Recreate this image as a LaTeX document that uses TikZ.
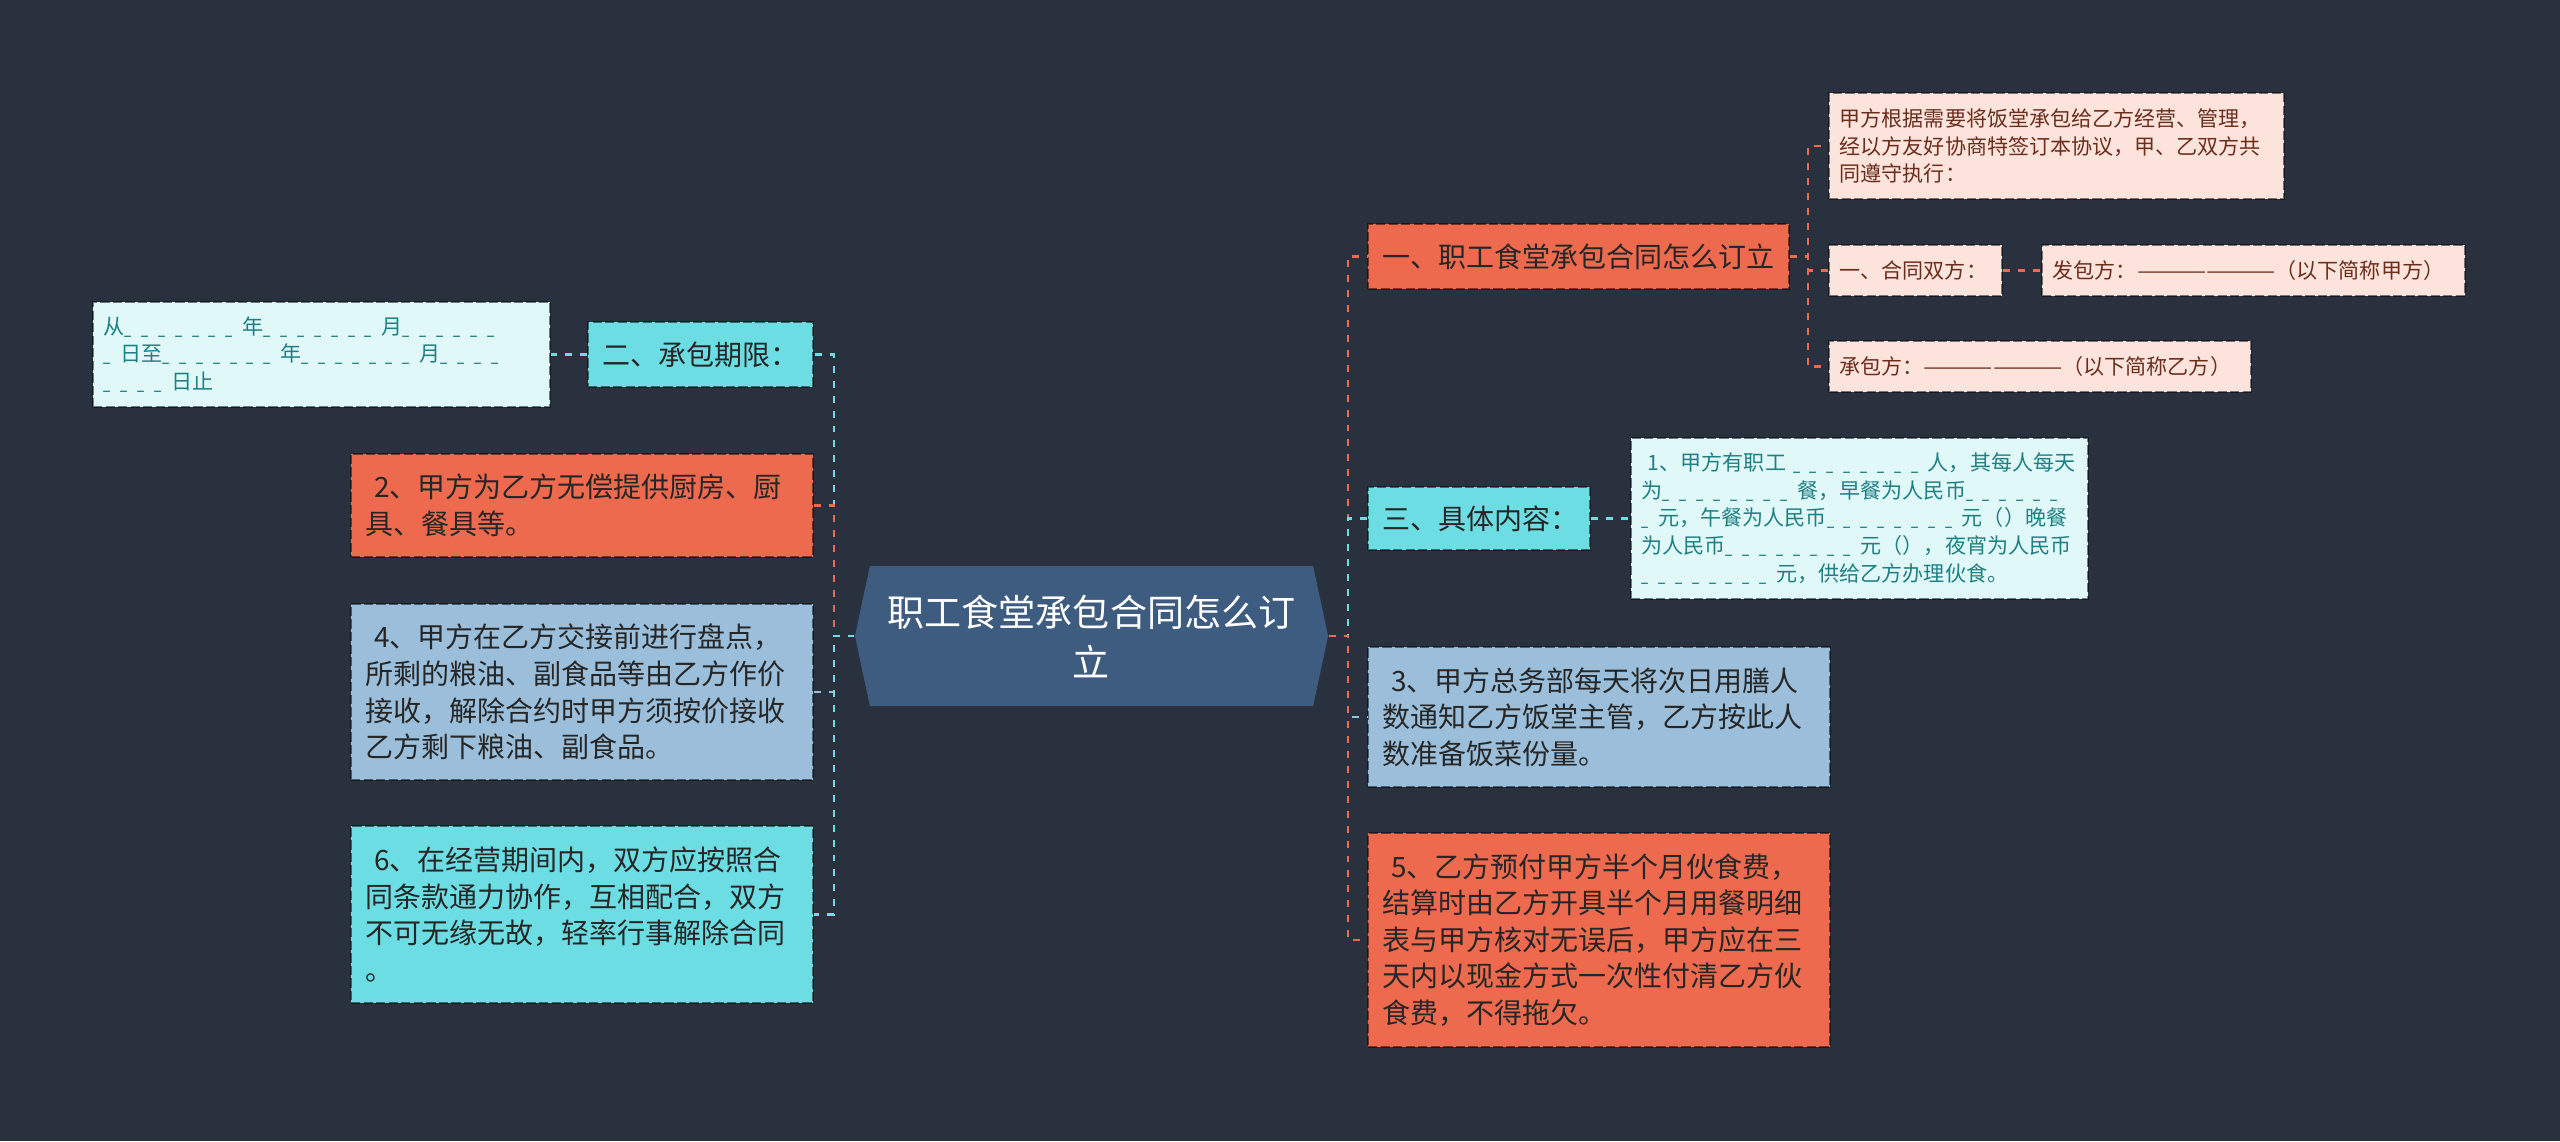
\documentclass[tikz,border=0pt]{standalone}
\usepackage{fontspec}
\usepackage{graphicx}
\setmainfont{Noto Sans CJK SC}
\usetikzlibrary{shapes.symbols, positioning}

\definecolor{bgdark}{HTML}{29313F}
\definecolor{rootblue}{HTML}{3E5B80}
\definecolor{tomato}{HTML}{EE6A4E}
\definecolor{aqua}{HTML}{6BDDE3}
\definecolor{steel}{HTML}{9BBFDA}
\definecolor{blush}{HTML}{FCE4DC}
\definecolor{blushtext}{HTML}{6B2D1C}
\definecolor{mint}{HTML}{E0F8F8}
\definecolor{minttext}{HTML}{1F8084}
\definecolor{inkdark}{HTML}{262626}

\newcommand{\blanks}[1]{\foreach \k in {1,...,#1}{\makebox[0.8em][l]{\scalebox{0.6}[1]{\_}}}}
\newcommand{\longline}{\resizebox{52pt}{\height}{——————}}

\begin{document}
\begin{tikzpicture}[x=0.375pt, y=-0.375pt,
    box/.style={rectangle, draw=black, draw opacity=0.5, dash pattern=on 3.5pt off 1.2pt, line width=0.55pt, inner ysep=0pt, align=left},
    topic/.style={box, fill=#1, text=inkdark, inner xsep=5.5pt, font=\fontsize{10.5}{13.7}\selectfont},
    leaf/.style={box, fill=#1, inner xsep=4pt, font=\fontsize{7.9}{10.4}\selectfont},
    conn/.style={draw=#1, line width=1.1pt, dash pattern=on 2.6pt off 3pt}
]
\useasboundingbox (0,0) rectangle (2560,1141);
\fill[bgdark] (0,0) rectangle (2560,1141);

\node[signal, signal to=west and east, signal pointer angle=156, fill=rootblue, text=white, minimum width=177.4pt, minimum height=52.5pt, inner sep=0pt, align=center, font=\fontsize{13.9}{18.75}\selectfont] (root) at (1091.5,636) {职工食堂承包合同怎么订\\立};

\node[topic=tomato, text width=146.9pt, minimum height=24.4pt] (rA) at (1578.5,256.5) {一、职工食堂承包合同怎么订立};
\node[topic=aqua, text width=72.3pt, minimum height=23.6pt] (rB) at (1479,518.5) {三、具体内容：};
\node[topic=steel, text width=162.25pt, minimum height=52.5pt] (r3) at (1599,717) {\hspace*{0.3em}3、甲方总务部每天将次日用膳人\\数通知乙方饭堂主管，乙方按此人\\数准备饭菜份量。};
\node[topic=tomato, text width=162.25pt, minimum height=80.25pt] (r5) at (1599,940) {\hspace*{0.3em}5、乙方预付甲方半个月伙食费，\\结算时由乙方开具半个月用餐明细\\表与甲方核对无误后，甲方应在三\\天内以现金方式一次性付清乙方伙\\食费，不得拖欠。};

\node[leaf=blush, text=blushtext, text width=162.6pt, minimum height=39.75pt] (pA) at (2056.5,146) {甲方根据需要将饭堂承包给乙方经营、管理，\\经以方友好协商特签订本协议，甲、乙双方共\\同遵守执行：};
\node[leaf=blush, text=blushtext, text width=56.9pt, minimum height=19.1pt] (pB) at (1915.5,270.5) {一、合同双方：};
\node[leaf=blush, text=blushtext, text width=150.6pt, minimum height=19.1pt] (pC) at (2253.5,270.5) {\mbox{发包方：\longline（以下简称甲方）}};
\node[leaf=blush, text=blushtext, text width=150.3pt, minimum height=19.1pt] (pD) at (2040,366.5) {\mbox{承包方：\longline（以下简称乙方）}};
\node[leaf=mint, text=minttext, text width=163.4pt, minimum height=60.4pt] (pE) at (1859.5,518.5) {\hspace*{0.3em}1、甲方有职工 \blanks{8}人，其每人每天\\为\blanks{8}餐，早餐为人民币\blanks{6}\\\blanks{1}元，午餐为人民币\blanks{8}元（）晚餐\\为人民币\blanks{8}元（），夜宵为人民币\\\blanks{8}元，供给乙方办理伙食。};

\node[topic=aqua, text width=73.4pt, minimum height=24.4pt] (lA) at (700.5,354.5) {二、承包期限：};
\node[leaf=mint, text=minttext, text width=163.4pt, minimum height=39.4pt] (lB) at (321.5,354.5) {从\blanks{7}年\blanks{7}月\blanks{6}\\\blanks{1}日至\blanks{7}年\blanks{7}月\blanks{4}\\\blanks{4}日止};
\node[topic=tomato, text width=162.25pt, minimum height=38.6pt] (l2) at (582,505.5) {\hspace*{0.3em}2、甲方为乙方无偿提供厨房、厨\\具、餐具等。};
\node[topic=steel, text width=162.25pt, minimum height=66pt] (l4) at (582,692) {\hspace*{0.3em}4、甲方在乙方交接前进行盘点，\\所剩的粮油、副食品等由乙方作价\\接收，解除合约时甲方须按价接收\\乙方剩下粮油、副食品。};
\node[topic=aqua, text width=162.25pt, minimum height=66.4pt] (l6) at (582,914.5) {\hspace*{0.3em}6、在经营期间内，双方应按照合\\同条款通力协作，互相配合，双方\\不可无缘无故，轻率行事解除合同\\。};

\coordinate (rt) at (1348,636);
\coordinate (lt) at (834,636);
\coordinate (st) at (1808,256.5);

\draw[conn=tomato] (root.east) -- (rt) |- (rA.west);
\draw[conn=steel] (root.east) -- (rt) |- (r3.west);
\draw[conn=aqua] (root.east) -- (rt) |- (rB.west);
\draw[conn=tomato] (root.east) -- (rt) |- (r5.west);

\draw[conn=aqua] (root.west) -- (lt) |- (lA.east);
\draw[conn=tomato] (root.west) -- (lt) |- (l2.east);
\draw[conn=steel] (root.west) -- (lt) |- (l4.east);
\draw[conn=aqua] (root.west) -- (lt) |- (l6.east);

\draw[conn=tomato] (rA.east) -- (st) |- (pA.west);
\draw[conn=tomato] (rA.east) -- (st) |- (pB.west);
\draw[conn=tomato] (rA.east) -- (st) |- (pD.west);
\draw[conn=tomato] (pB.east) -- (pC.west);
\draw[conn=aqua] (rB.east) -- (pE.west);
\draw[conn=aqua] (lA.west) -- (lB.east);
\end{tikzpicture}
\end{document}
